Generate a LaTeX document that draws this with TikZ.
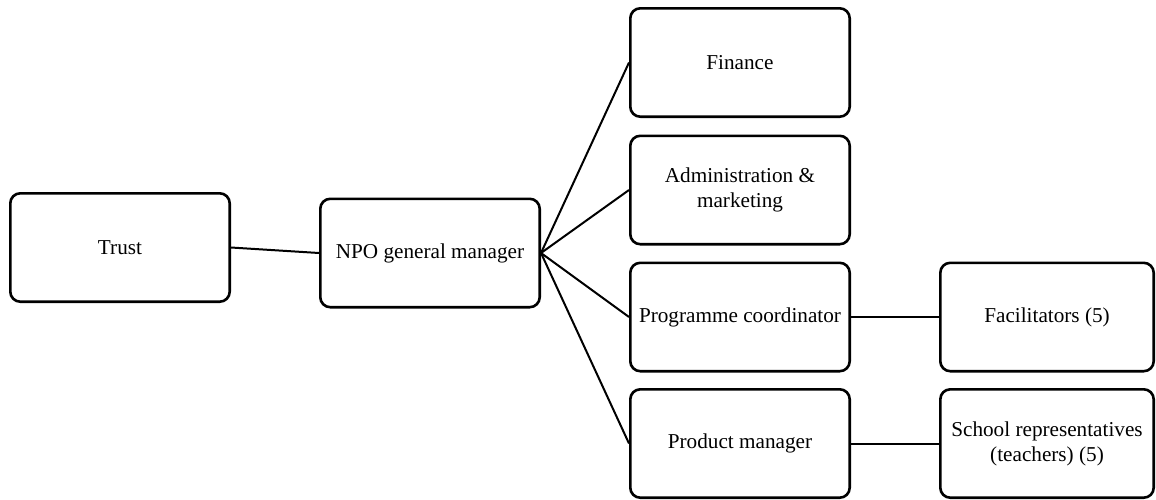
\documentclass[tikz,border=0pt]{standalone}
\usepackage{fontspec}
\setmainfont{Liberation Serif}
\usepackage{tikz}

\begin{document}
\begin{tikzpicture}[x=.5pt,y=-.5pt,line join=bevel,
  unit/.style={draw,line width=1.3pt,rounded corners=5pt,minimum width=109.7pt,minimum height=54.2pt,align=center,inner sep=2pt,font=\fontsize{10.6}{12.5}\selectfont},
  subunit/.style={unit,minimum width=106.7pt},
  link/.style={line width=1pt}]
\useasboundingbox (0,0) rectangle (1156,499);
\node [unit] at (120,247.5) (trust) {Trust};
\node [unit] at (430,253) (npo) {NPO general manager};
\node [unit] at (740,62.5) (fin) {Finance};
\node [unit] at (740,190) (admin) {Administration \&\\marketing};
\node [unit] at (740,317) (prog) {Programme coordinator};
\node [unit] at (740,443.5) (prod) {Product manager};
\node [subunit] at (1047,317) (fac) {Facilitators (5)};
\node [subunit] at (1047,443.5) (school) {School representatives\\(teachers) (5)};

\draw [link] (trust.east) -- (npo.west);
\draw [link] (npo.east) edge (fin.west);
\draw [link] (npo.east) edge (admin.west);
\draw [link] (npo.east) edge (prog.west);
\draw [link] (npo.east) edge (prod.west);
\draw [link] (prog) edge (fac);
\draw [link] (prod) edge (school);
\end{tikzpicture}
\end{document}
